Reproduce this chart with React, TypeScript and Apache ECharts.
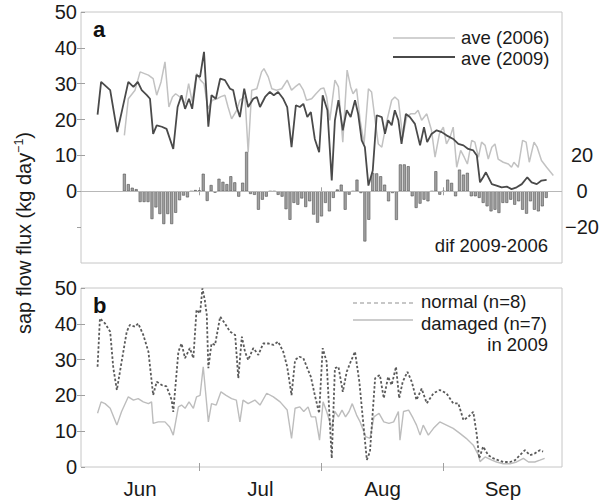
import React, { useEffect, useRef } from "react";
import * as echarts from "echarts";

// x positions are days counted from 1 June
const months = ["Jun", "Jul", "Aug", "Sep"];
const monthStarts = [0, 30, 61, 92, 122];

// panel a: mean sap flow, 2006 vs 2009 (kg day-1)
const ave2006Name = "ave (2006)";
const ave2006Day = [11, 12, 13.7, 15, 17.1, 18.3, 19.2, 20.3, 21.3, 22.3, 23.2, 24, 25.1, 26.4, 27.3, 28.2, 29.3, 30.3, 31.2, 32.2, 33.3, 34.5, 35.5, 36.5, 37.3, 38.2, 39.5, 40.3, 41.6, 42.4, 43.3, 44.6, 45.8, 46.4, 47.5, 48.4, 49.6, 50.9, 52.3, 53.4, 54.3, 55.4, 56.4, 57.2, 58.5, 59.6, 60.8, 61.6, 62.3, 63.1, 64.4, 65.3, 66.4, 67.5, 68.4, 69, 69.9, 70.8, 71.8, 72.9, 73.7, 74.6, 75.4, 76.3, 77.5, 78.8, 79.6, 80.5, 81.6, 82.6, 83.6, 84.7, 85.5, 86.4, 87.7, 88.9, 89.8, 90.9, 91.9, 92.7, 93.6, 94.4, 95.3, 96.3, 97.2, 98, 99.1, 99.9, 100.8, 101.6, 102.5, 103.3, 104.2, 105, 105.8, 107.1, 108.4, 109.2, 109.8, 110.9, 112, 112.9, 113.7, 114.9, 115.7, 116.8, 118.1, 119.8];
const ave2006 = [15.6, 25.8, 28.2, 33.3, 32.4, 31.4, 26.8, 30.5, 36.1, 23.5, 26.3, 27.2, 26.3, 24.5, 30, 25, 32.8, 31, 30, 23, 25.4, 25.8, 26.4, 26.8, 23.5, 20.2, 22.6, 25.4, 26.3, 10.9, 28.2, 28.6, 33.3, 34.2, 31.9, 28.6, 28.2, 28.6, 31, 28.2, 29.1, 30, 28.2, 25.4, 25.8, 27.2, 28.6, 28.8, 26.3, 19.8, 31, 29.1, 13.7, 33.8, 29.1, 27.2, 28.6, 19.8, 13.2, 28.6, 27.7, 19.8, 13.2, 12.3, 19.3, 25.4, 26.3, 25.4, 15.1, 20.7, 21.6, 21.6, 22.6, 19.8, 21.6, 17, 9.5, 16, 17.9, 13.2, 15.1, 17.9, 6.7, 11.4, 9.5, 7.6, 14.2, 13.7, 9.5, 13.7, 12.8, 9, 12.3, 13.2, 9, 8.1, 7.6, 6.7, 8.1, 6.7, 14.2, 13.7, 8.1, 13.7, 12.3, 8.6, 6.7, 4.4];

const ave2009Name = "ave (2009)";
const ave2009Day = [4.2, 5.1, 6.5, 7.4, 9.2, 12, 13.3, 14.4, 15.4, 16.7, 17.5, 18.3, 19.2, 20.5, 21.7, 23.4, 24.5, 25.5, 26.4, 27.4, 28.2, 29.3, 30.2, 31.2, 32.3, 33.1, 34.2, 35.3, 36.5, 37.8, 38.6, 39.5, 40.3, 41.4, 42.4, 43.7, 44.6, 45.4, 46.7, 47.9, 48.9, 50, 51.3, 52.3, 53.4, 54.5, 55.5, 56.4, 57.4, 58.3, 59.3, 60.4, 61.3, 62.5, 63.6, 64.4, 65.3, 66.4, 67.4, 68.4, 69.5, 70.3, 71.2, 72, 72.9, 74, 75, 76.3, 77.1, 77.9, 78.8, 79.6, 80.5, 81.3, 82.4, 83.4, 84.7, 86, 87, 87.8, 88.9, 90.2, 91.5, 92.7, 94.4, 95.7, 97, 98.2, 99.5, 100.4, 101.2, 102, 102.7, 104.2, 105.4, 106.7, 108, 109.2, 110.5, 111.8, 113.2, 114.3, 115.6, 116.8, 118.1];
const ave2009 = [21.4, 30.5, 29.1, 28.2, 16.5, 30.5, 29.1, 30.5, 28.2, 26.8, 25.8, 16, 18.4, 18, 17.4, 11.8, 23.5, 26.8, 23, 25.8, 23, 32.4, 31.9, 38.9, 18, 26.8, 25.8, 31.4, 31, 28.6, 28.2, 23.5, 20.7, 28.6, 23.5, 25.8, 26.3, 23.5, 26.3, 27.7, 26.8, 27.7, 25.8, 23.5, 12.3, 24, 23.5, 24.4, 20.7, 22.1, 14.6, 10.9, 26.8, 22.6, 3, 19.8, 25.4, 17, 22.6, 20.7, 25.4, 21.6, 14.2, 12.3, 1.6, 5.8, 21.2, 20.7, 16, 19.8, 18.4, 22.6, 19.8, 13.2, 21.6, 20.7, 18.8, 12.8, 17.9, 13.7, 16, 17, 16.5, 15.6, 14.6, 13.2, 12.8, 11.8, 11.4, 10, 2.5, 3.9, 5.3, 2, 1.6, 1.1, 1.3, 0.6, 1.1, 2, 3.9, 2.5, 2, 3, 3.2];

// daily difference 2009-2006, one bar per day starting at day 11
const difName = "dif 2009-2006";
const difFirstDay = 11;
const difValues = [9.8, 4, 2, 1.2, -6, -6, -6, -15.5, -9, -12.7, -18.3, -12.7, -18.3, -12, -5, -2.4, -3.4, 0, 0.7, 0.5, 9.8, -5.4, 3.5, -0.8, 7, 5.3, 4, 8.4, 5, -3, 4.8, 22, -1.5, -2, -10.3, -4.7, -3, 0, 0, -2, -3, -10, -15.9, -6.5, -7.5, -4, -8.8, -5.6, -13, -17.5, -14, -6.5, -11.2, -3.7, 1, 3.7, -10.3, -1.9, 0, 6.5, -1, -28, -15.9, 10.3, 10, 8.4, 3.7, -5.6, -1, -16, 15, 15, 14, -2.8, -9.3, -6.9, -4.7, -5.6, 0, 11.2, -1.9, 0, 6.5, 4.7, -2.8, 12.1, 9.3, 10.3, -2.8, -2.8, -3.7, -6.5, -8.4, -11.2, -10.3, -12.1, -6.5, -6.5, -4.7, -7.5, -5.6, -10.3, -12.5, -5.6, -10.3, -11.2, -8.4, -3.7];

// panel b: 2009 trees by condition
const normalName = "normal (n=8)";
const normalDay = [4.2, 4.8, 6.1, 7.4, 8.2, 9.1, 10.3, 11.6, 12.4, 13.7, 14.5, 15.8, 17.1, 18.3, 19.2, 20.5, 21.7, 23, 23.4, 24.7, 25.5, 26.4, 27.6, 28.5, 29.3, 30.2, 30.8, 31.4, 31.9, 32.3, 33.1, 34, 35.3, 36.5, 37.8, 39.1, 39.9, 40.8, 41.6, 42.4, 43.7, 45, 46.2, 47.5, 48.8, 50, 51.3, 52.3, 53.4, 54.3, 55.4, 56.4, 57.4, 58.3, 59.3, 60.4, 61.3, 62.3, 63.6, 64.4, 65.3, 66.4, 67.4, 68.4, 69.5, 70.6, 71.4, 72.5, 73.3, 74.6, 75.8, 76.8, 77.9, 78.8, 79.9, 80.7, 81.6, 82.8, 83.9, 85.1, 86.4, 87.7, 89.4, 91, 92.7, 94.4, 95.7, 97, 98.2, 99.5, 100.4, 101, 102, 103.3, 104.6, 105.8, 107.1, 108.8, 110.1, 111.3, 112.6, 113.9, 115.1, 116.4, 117.2];
const normal = [28, 41.5, 40.1, 37.8, 27.6, 21.5, 29.4, 37.8, 39.7, 39.2, 40.1, 36.9, 32.2, 20.1, 23.8, 22.9, 22.5, 18.7, 15.4, 32.2, 34.5, 30.4, 33.2, 30.4, 43.9, 42.9, 49.9, 46.6, 42.5, 27.6, 34.5, 34.1, 42, 40.1, 37.8, 36.9, 24.8, 36.4, 32.2, 29.9, 33.2, 31.3, 34.5, 34.5, 34.1, 35, 32.2, 28, 20.1, 29.9, 30.8, 30.4, 27.6, 25.2, 20.1, 15, 33.2, 29.4, 2.4, 27.6, 28, 21, 26.6, 29.4, 32.2, 23.8, 14.5, 2, 4.3, 24.8, 25.7, 19.2, 25.2, 22.9, 28, 19.2, 23.8, 26.6, 23.8, 18.7, 21.9, 17.8, 20.6, 21.5, 20.6, 17.8, 17.8, 13.1, 14, 15.4, 8.9, 2.4, 5.7, 3.3, 2.4, 1.9, 1.4, 1.4, 1.9, 3.3, 4.7, 3.3, 3.8, 4.7, 4.3];

const damagedName = "damaged (n=7)";
const damagedDay = [4.2, 5.1, 6.1, 7.4, 9.1, 10.3, 12, 13.3, 14.5, 15.8, 17.1, 17.9, 18.3, 19.6, 21.3, 22.5, 23.4, 24.7, 25.5, 26.4, 27.4, 28.5, 29.3, 30.2, 31, 32.3, 33.1, 34.3, 35.5, 36.8, 38.2, 39.4, 40.3, 41.1, 42.4, 44.1, 45.4, 47.1, 48.8, 50.5, 52.3, 53.4, 54.3, 55.5, 56.5, 57.6, 58.4, 59.5, 60.5, 61.4, 62.3, 63.6, 64.4, 65.3, 66.2, 67.1, 68, 68.8, 69.9, 70.8, 71.4, 72.2, 73.3, 74.3, 75.6, 76.8, 78.1, 79.3, 80.5, 80.9, 81.8, 83.1, 84.2, 85.1, 86, 86.8, 88.1, 89.4, 91, 92.7, 94.4, 96.1, 97.7, 99.5, 100.8, 101.2, 102.5, 104.2, 105.4, 107.1, 108.8, 110.5, 112.2, 113.5, 115.1, 116.4, 117.6];
const damaged = [15, 18.2, 17.7, 16.4, 11.7, 15.5, 19.6, 18.7, 19.1, 18.2, 17.7, 18.2, 12.2, 12.6, 12.6, 11.2, 8.9, 16.8, 17.3, 16.4, 18.2, 16.4, 19.6, 20, 28, 12.6, 17.7, 17.3, 21, 20, 19.1, 18.7, 12.6, 18.7, 17.7, 18.7, 17.3, 20.6, 19.6, 18.2, 15.9, 8, 16.4, 16.8, 15.5, 16.8, 14, 14, 7.5, 18.2, 15.5, 10.8, 15.5, 14, 15.9, 14, 15.5, 17.7, 14.5, 12.6, 10.8, 8.5, 8, 14, 15, 12.6, 12.2, 12.6, 15.5, 7.5, 15.5, 15.9, 13.7, 11.7, 8.9, 11.7, 8.9, 10.8, 12.6, 11.7, 10.8, 9.4, 8, 6.1, 3.3, 1.5, 2.8, 1.9, 1.4, 0.9, 0.9, 1.4, 2.4, 1.4, 1.4, 1.9, 2.4];
const panelBNote = "in 2009";

const fluxTicks = [0, 10, 20, 30, 40, 50];
const difTicks = [-20, 0, 20];

const FONT = "'Liberation Sans', Arial, Helvetica, sans-serif";
const TEXT = "#1a1a1a";
const FRAME = "#c6c6c6";
const TICK = "#a0a0a0";
const LIGHT = "#c2c2c2";
const DARK = "#4a4a4a";

const zip = (xs: number[], ys: number[]) => xs.map((x, i) => [x, ys[i]]);
const monthMid = months.map((_, i) => (monthStarts[i] + monthStarts[i + 1]) / 2);
const innerStarts = monthStarts.slice(1, -1);

const tick = (vals: number[]) => ({
  show: true,
  inside: true,
  length: 4,
  lineStyle: { color: TICK, width: 1 },
  customValues: vals,
});

function buildOption() {
  const xBase = (gridIndex: number, position: "top" | "bottom") => ({
    type: "value",
    gridIndex,
    position,
    min: monthStarts[0],
    max: monthStarts[monthStarts.length - 1],
    axisLine: { show: false },
    splitLine: { show: false },
    axisTick: tick(innerStarts),
    axisLabel: { show: false },
  });

  const difDays = difValues.map((_, i) => difFirstDay + i);

  return {
    animation: false,
    backgroundColor: "#ffffff",
    textStyle: { fontFamily: FONT },
    grid: [
      { left: 81, top: 12, width: 481, height: 251, show: true, borderColor: FRAME, borderWidth: 1 },
      { left: 81, top: 288, width: 481, height: 179, show: true, borderColor: FRAME, borderWidth: 1 },
    ],
    xAxis: [
      xBase(0, "bottom"),
      xBase(0, "top"),
      {
        ...xBase(1, "bottom"),
        axisLabel: {
          show: true,
          customValues: monthMid,
          margin: 11,
          fontSize: 20.5,
          fontFamily: FONT,
          color: TEXT,
          formatter: (v: number) => {
            const i = monthMid.findIndex((m) => Math.abs(m - v) < 0.01);
            return i >= 0 ? months[i] : "";
          },
        },
      },
      xBase(1, "top"),
    ],
    yAxis: [
      {
        type: "value",
        gridIndex: 0,
        position: "left",
        min: -20,
        max: 50,
        axisLine: { show: false },
        splitLine: { show: false },
        axisTick: tick(fluxTicks),
        axisLabel: { customValues: fluxTicks, margin: 4, fontSize: 20, fontFamily: FONT, color: TEXT },
      },
      {
        type: "value",
        gridIndex: 0,
        position: "right",
        min: -40,
        max: 100,
        axisLine: { show: false },
        splitLine: { show: false },
        axisTick: tick([-20, 0, 20, 40, 60, 80]),
        axisLabel: {
          customValues: difTicks,
          margin: 20,
          align: "center",
          fontSize: 20,
          fontFamily: FONT,
          color: TEXT,
          formatter: (v: number) => String(v).replace("-", "\u2212"),
        },
      },
      {
        type: "value",
        gridIndex: 1,
        position: "left",
        min: 0,
        max: 50,
        axisLine: { show: false },
        splitLine: { show: false },
        axisTick: tick(fluxTicks),
        axisLabel: { customValues: fluxTicks, margin: 4, fontSize: 20, fontFamily: FONT, color: TEXT },
      },
      {
        type: "value",
        gridIndex: 1,
        position: "right",
        min: 0,
        max: 50,
        axisLine: { show: false },
        splitLine: { show: false },
        axisTick: tick(fluxTicks.slice(1, -1)),
        axisLabel: { show: false },
      },
    ],
    series: [
      {
        name: difName,
        type: "bar",
        xAxisIndex: 0,
        yAxisIndex: 1,
        barWidth: 3,
        data: zip(difDays, difValues),
        itemStyle: { color: "#a2a2a2", borderColor: "#505050", borderWidth: 0.6 },
        markLine: {
          silent: true,
          symbol: "none",
          label: { show: false },
          lineStyle: { color: "#b8b8b8", width: 1, type: "solid" },
          data: [{ yAxis: 0 }],
        },
      },
      {
        name: ave2006Name,
        type: "line",
        xAxisIndex: 0,
        yAxisIndex: 0,
        showSymbol: false,
        symbol: "none",
        data: zip(ave2006Day, ave2006),
        lineStyle: { color: LIGHT, width: 1.5 },
      },
      {
        name: ave2009Name,
        type: "line",
        xAxisIndex: 0,
        yAxisIndex: 0,
        showSymbol: false,
        symbol: "none",
        data: zip(ave2009Day, ave2009),
        lineStyle: { color: DARK, width: 1.8 },
      },
      {
        name: damagedName,
        type: "line",
        xAxisIndex: 2,
        yAxisIndex: 2,
        showSymbol: false,
        symbol: "none",
        data: zip(damagedDay, damaged),
        lineStyle: { color: "#bdbdbd", width: 1.4 },
      },
      {
        name: normalName,
        type: "line",
        xAxisIndex: 2,
        yAxisIndex: 2,
        showSymbol: false,
        symbol: "none",
        data: zip(normalDay, normal),
        lineStyle: { color: "#5a5a5a", width: 1.8, type: [2.5, 2] },
      },
    ],
    graphic: [
      // panel letters
      { type: "text", x: 93, y: 29, style: { text: "a", fontSize: 22, fontWeight: "bold", fontFamily: FONT, fill: "#111", verticalAlign: "middle" } },
      { type: "text", x: 93, y: 305, style: { text: "b", fontSize: 22, fontWeight: "bold", fontFamily: FONT, fill: "#111", verticalAlign: "middle" } },
      // panel a key
      { type: "line", shape: { x1: 393, y1: 38, x2: 455, y2: 38 }, style: { stroke: LIGHT, lineWidth: 1.5 } },
      { type: "line", shape: { x1: 393, y1: 57, x2: 455, y2: 57 }, style: { stroke: DARK, lineWidth: 1.8 } },
      { type: "text", x: 461, y: 37.5, style: { text: ave2006Name, fontSize: 18.5, fontFamily: FONT, fill: TEXT, verticalAlign: "middle" } },
      { type: "text", x: 461, y: 58.5, style: { text: ave2009Name, fontSize: 18.5, fontFamily: FONT, fill: TEXT, verticalAlign: "middle" } },
      { type: "text", x: 548, y: 245, style: { text: difName, fontSize: 18.5, fontFamily: FONT, fill: TEXT, align: "right", verticalAlign: "middle" } },
      // panel b key
      { type: "line", shape: { x1: 353, y1: 303, x2: 413, y2: 303 }, style: { stroke: "#b5b5b5", lineWidth: 1.5, lineDash: [4, 3] } },
      { type: "line", shape: { x1: 353, y1: 320, x2: 413, y2: 320 }, style: { stroke: "#bdbdbd", lineWidth: 1.5 } },
      { type: "text", x: 421, y: 301, style: { text: normalName, fontSize: 18.5, fontFamily: FONT, fill: TEXT, verticalAlign: "middle" } },
      { type: "text", x: 421, y: 323, style: { text: damagedName, fontSize: 18.5, fontFamily: FONT, fill: TEXT, verticalAlign: "middle" } },
      { type: "text", x: 548, y: 344, style: { text: panelBNote, fontSize: 18.5, fontFamily: FONT, fill: TEXT, align: "right", verticalAlign: "middle" } },
      // shared y title
      {
        type: "text",
        x: 24,
        y: 233,
        rotation: Math.PI / 2,
        style: {
          text: "{t|sap flow flux (kg day}{s|\u22121}{t|)}",
          align: "center",
          verticalAlign: "middle",
          fill: TEXT,
          rich: {
            t: { fontSize: 20, fontFamily: FONT, fill: TEXT, lineHeight: 24 },
            s: { fontSize: 12.5, fontFamily: FONT, fill: TEXT, lineHeight: 24, verticalAlign: "top" },
          },
        },
      },
    ],
  };
}

export default function App() {
  const ref = useRef<HTMLDivElement | null>(null);
  useEffect(() => {
    if (!ref.current) return;
    const chart = echarts.init(ref.current, undefined, { renderer: "svg" });
    chart.setOption(buildOption() as any);
    return () => chart.dispose();
  }, []);
  return (
    <div
      ref={ref}
      style={{ position: "fixed", left: 0, top: 0, width: 603, height: 504, background: "#fff" }}
    />
  );
}
